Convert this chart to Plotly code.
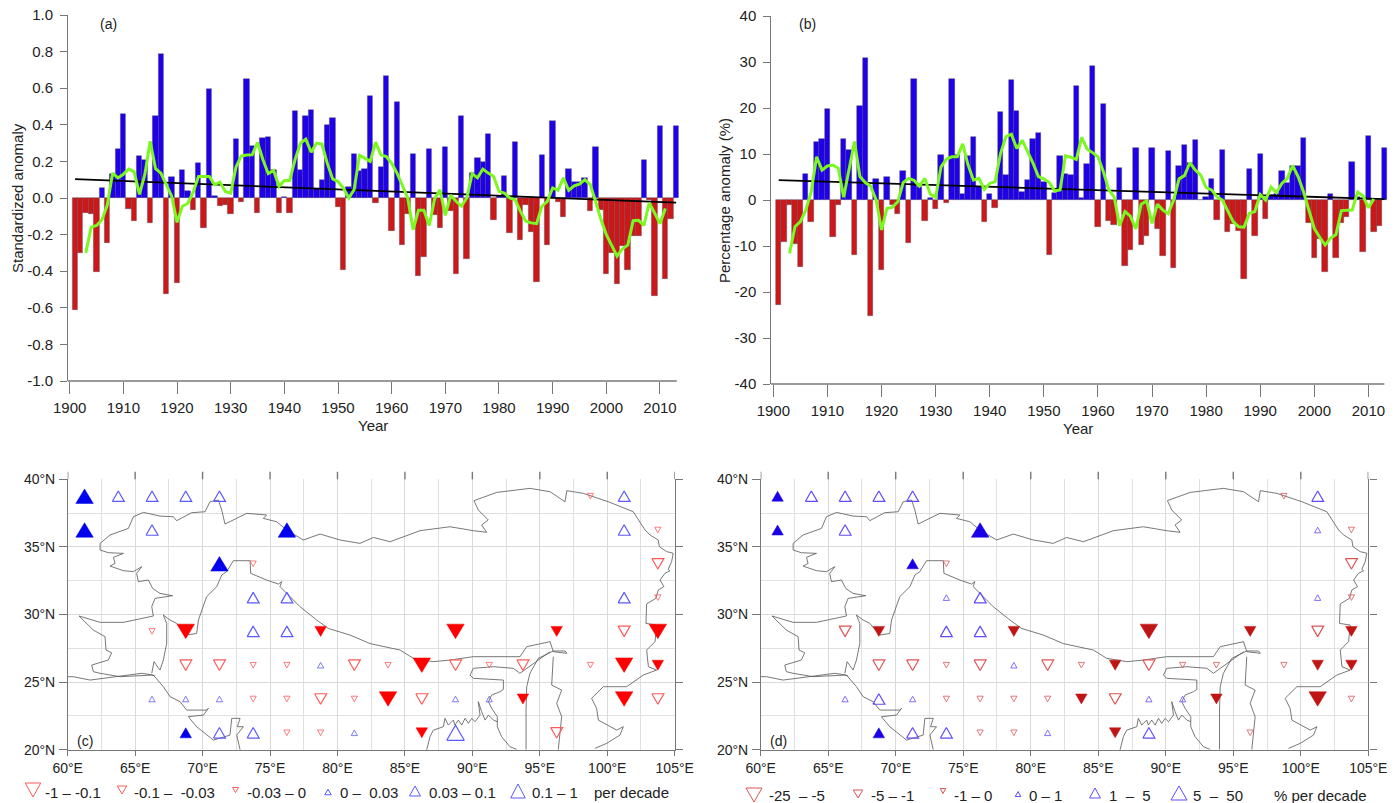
import plotly.graph_objects as go

W, H = 1399, 803
FONT = "Liberation Sans, Arial, sans-serif"
TXT = "#222222"
AX = "#777777"

years = list(range(1901, 2014))
a_values = [-0.61,-0.30,-0.08,-0.09,-0.405,0.055,-0.245,0.13,0.27,0.46,
            -0.06,-0.125,0.23,0.205,-0.135,0.45,0.785,-0.525,0.115,-0.465,
            0.155,0.04,-0.065,0.19,-0.165,0.595,0.01,-0.045,-0.04,-0.085,
            0.325,-0.02,0.65,0.285,-0.08,0.33,0.335,0.155,-0.08,0.005,
            -0.08,0.475,0.155,0.45,0.48,0.05,0.10,0.40,0.435,-0.05,
            -0.395,0.06,0.24,0.145,0.16,0.555,-0.025,0.17,0.665,-0.18,
            0.525,-0.258,-0.09,0.24,-0.425,-0.325,0.27,-0.095,-0.165,0.28,
            -0.07,-0.415,0.447,-0.333,0.135,0.218,0.195,0.352,-0.118,0.01,
            0.12,-0.19,0.305,-0.23,-0.036,-0.187,-0.458,0.233,-0.258,0.42,
            -0.024,-0.105,0.16,0.085,0.085,0.11,-0.07,0.28,-0.067,-0.418,
            -0.30,-0.47,-0.26,-0.395,-0.21,-0.205,0.207,-0.01,-0.536,0.396,
            -0.44,-0.113,0.396]
smooth_years = list(range(1903, 2012))
a_smooth = [-0.30,-0.16,-0.15,-0.12,-0.04,0.136,0.11,0.13,0.158,0.144,
            0.02,0.127,0.31,0.16,0.136,0.073,0.01,-0.133,-0.045,-0.03,
            0.03,0.118,0.118,0.118,0.073,0.087,0.036,0.027,0.17,0.23,
            0.235,0.236,0.304,0.21,0.133,0.15,0.064,0.095,0.095,0.21,
            0.30,0.322,0.25,0.30,0.295,0.19,0.104,0.09,0.055,0.0,
            0.045,0.233,0.218,0.20,0.305,0.236,0.227,0.19,0.136,0.064,
            0.0,-0.173,-0.067,-0.067,-0.15,-0.005,0.045,-0.095,0.015,-0.018,
            -0.045,0.0,0.133,0.11,0.158,0.136,0.118,0.036,0.027,0.0,
            -0.01,-0.073,-0.127,-0.136,-0.14,-0.045,-0.018,0.055,0.042,0.11,
            0.042,0.067,0.076,0.10,0.073,-0.018,-0.118,-0.2,-0.255,-0.318,
            -0.278,-0.258,-0.124,-0.122,-0.15,-0.027,-0.082,-0.14,-0.058]
trend_years = [1901, 2013]
a_trend = [0.103, -0.025]
a_ticks = [1.0,0.8,0.6,0.4,0.2,0.0,-0.2,-0.4,-0.6,-0.8,-1.0]
a_ticktext = ["1.0","0.8","0.6","0.4","0.2","0.0","-0.2","-0.4","-0.6","-0.8","-1.0"]

b_values = [-22.9,-9.05,-1.1,-9.6,-14.6,5.6,-4.7,12.7,13.2,19.8,
            -8.0,-1.1,13.2,10.8,-11.9,20.4,30.8,-25.3,4.6,-15.2,
            5.1,-1.1,-3.1,6.3,-9.3,26.4,2.9,-4.6,0.4,-2.0,
            9.7,-0.7,26.4,9.8,1.2,9.6,13.8,2.9,-4.7,1.4,
            -1.7,19.1,5.4,26.1,19.3,1.7,4.3,13.3,14.6,4.0,
            -11.9,1.5,9.6,5.6,5.5,24.8,0.4,7.9,29.2,-5.9,
            20.8,-4.5,-5.4,7.0,-14.3,-10.8,11.4,-9.8,-7.9,11.4,
            -6.4,-12.1,10.6,-14.8,7.5,11.9,8.0,13.1,0.1,0.6,
            4.6,-4.4,10.9,-7.0,-5.2,-6.7,-17.1,6.7,-7.8,10.0,
            -4.2,1.1,1.3,6.2,3.7,7.5,7.5,13.5,-5.1,-12.7,
            -8.5,-15.7,1.2,-12.5,-4.9,-3.8,8.3,0.7,-11.2,13.9,
            -6.9,-5.6,11.2]
b_smooth = [-11.6,-5.8,-4.7,-2.2,1.8,9.4,6.5,7.4,7.6,6.9,
            0.6,6.5,12.7,5.1,3.8,3.0,0.0,-6.5,-1.8,-1.6,
            -0.4,3.8,4.7,4.3,3.0,4.7,1.3,0.6,7.2,8.9,
            9.4,9.4,12.2,7.6,4.3,4.7,2.3,3.6,4.0,10.1,
            13.8,14.3,11.2,13.0,10.5,8.0,5.1,4.6,3.8,2.0,
            2.2,9.6,9.3,8.8,13.6,11.1,10.3,9.4,6.2,2.2,
            0.7,-5.6,-2.5,-3.5,-6.3,-0.9,-0.2,-5.1,-0.9,-2.2,
            -3.0,0.0,4.6,5.3,8.1,6.5,5.4,2.7,2.2,0.7,
            0.0,-2.5,-4.7,-5.8,-5.9,-2.9,-2.5,1.2,0.0,2.8,
            1.6,3.6,4.7,7.5,5.1,1.8,-2.2,-6.2,-8.1,-9.8,
            -8.3,-7.5,-2.3,-2.3,-2.2,1.7,0.9,-1.7,0.2]
b_trend = [4.3, 0.2]
b_ticks = [40,30,20,10,0,-10,-20,-30,-40]
b_ticktext = ["40","30","20","10","0","-10","-20","-30","-40"]

decades = list(range(1900, 2020, 10))

lon_ticks = list(range(60, 110, 5))
lon_ticktext = [f"{v}°E" for v in lon_ticks]
lat_ticks = [20, 25, 30, 35, 40]
lat_ticktext = [f"{v}°N" for v in lat_ticks]
lon_minor = [62.5 + 5 * i for i in range(9)]
lat_minor = [22.5, 27.5, 32.5, 37.5]

# Boundary polylines, lon and lat
north_lon = [60.84,62.40,64.13,66.35,66.23,66.47,67.78,66.84,66.30,65.98,65.24,65.11,65.49,64.87,64.13,63.39,63.14,63.51,63.39,64.13,63.01,62.40,62.40,63.14,64.50,64.87,65.61,66.84,67.83,68.08,69.19,70.18,70.55,71.17,71.42,71.66,73.27,74.75,74.50,75.49,76.23,77.47,78.71,80.19,81.67,82.66,83.90,86.12,88.34,90.07,91.06,90.69,91.18,90.44,90.12,91.80,94.27,95.76,96.87,97.00,98.23,100.08,101.93,102.80,103.17,103.78,103.86,104.40,104.89,104.77,104.52,104.65,104.28,103.91,104.20,103.78,103.61,102.92,102.87,102.87,103.66,103.54,102.92,103.05,103.66,102.67,101.44,99.71,98.84,99.21,99.34,100.70,101.19,100.94,99.96,99.09]
north_lat = [29.89,29.42,29.42,29.89,30.58,31.19,31.39,31.56,31.93,32.55,32.43,33.04,33.54,33.17,33.24,33.49,33.58,33.78,34.23,34.52,34.57,34.77,35.26,35.88,36.37,37.23,37.55,37.28,37.23,36.94,37.53,37.60,38.34,38.47,37.73,36.69,37.48,37.36,37.11,36.86,36.25,35.51,35.95,35.51,35.26,35.70,35.38,36.20,36.49,36.20,36.08,36.62,36.99,37.73,38.42,39.03,39.33,39.08,38.34,39.16,38.96,38.34,37.60,36.25,35.88,35.51,35.02,34.65,34.53,33.91,33.34,33.24,33.05,32.55,32.06,31.81,31.20,30.78,29.84,29.34,29.22,27.99,27.37,26.14,25.89,25.52,24.66,24.66,23.80,23.06,22.19,21.45,21.70,21.08,20.47,20.10]
west_lon = [60.84,61.90,62.77,62.84,63.26,63.01,61.78,61.90,62.40,63.88,66.23,66.47]
west_lat = [29.89,28.85,28.36,27.37,27.17,26.63,26.26,25.77,25.65,25.40,25.52,25.45]
coast_lon = [60.00,60.42,61.66,63.14,65.49,66.35,67.09,67.59,68.33,68.82,70.30,70.43,70.06,68.94,69.56,70.80,72.03,72.16,72.78,72.58,73.02,72.53,72.78]
coast_lat = [25.40,25.40,25.15,25.35,25.65,25.52,24.66,23.92,23.55,22.93,22.93,23.06,22.56,22.44,21.70,20.71,21.08,22.32,22.32,21.70,21.70,21.08,20.00]
thar_lon = [67.09,67.34,67.34,67.09,66.84,66.40,66.23]
thar_lat = [29.96,29.34,27.87,26.63,25.89,26.51,25.65]
foot_lon = [67.09,67.59,68.08,68.82,69.56,69.69,70.30,71.05,71.42,71.79,72.28,73.52,73.57,74.75,75.62,75.86,75.74,77.22,78.46,79.32,80.93,82.41,84.64,85.62,87.11,88.34,90.07,93.53,94.03,95.76,96.00,97.00,96.87,96.00,94.89,94.27,94.03,93.98,93.98]
foot_lat = [29.96,29.59,29.34,28.48,28.60,29.59,31.32,32.06,32.92,33.17,33.98,33.98,33.04,32.55,32.25,32.43,32.06,30.58,29.59,28.97,28.48,27.85,27.37,26.76,26.51,26.63,26.88,26.88,27.62,27.99,27.25,27.13,27.30,27.30,26.76,25.65,24.66,22.93,20.00]
east_lon = [96.00,95.88,96.62,96.25,96.62,96.50,96.37]
east_lat = [26.88,24.78,24.41,23.43,22.44,21.45,20.00]
assam_lon = [95.76,94.27,93.53,93.04,91.56,90.07,89.83,90.07,92.30,92.30,92.05,91.43,91.19,91.43,91.85,91.85,92.17,92.79,93.29]
assam_lat = [27.25,26.14,25.65,26.02,26.14,26.02,25.52,25.28,25.15,24.46,24.29,24.04,23.55,23.06,22.44,21.70,20.96,20.22,20.02]
bengal_lon = [86.61,86.86,87.11,87.85,87.97,88.22,88.59,88.71,88.96,89.21,89.46,89.70,89.95,90.20,90.57,90.44,90.69,90.94,91.19,91.56,91.85]
bengal_lat = [19.97,20.96,21.45,21.70,22.32,21.82,22.19,21.82,22.19,21.82,22.32,21.95,22.32,22.07,22.56,23.55,22.81,22.19,22.56,22.19,22.07]
boundaries = [(north_lon,north_lat),(west_lon,west_lat),(coast_lon,coast_lat),(thar_lon,thar_lat),
              (foot_lon,foot_lat),(east_lon,east_lat),(assam_lon,assam_lat),(bengal_lon,bengal_lat)]

# Trend classes on the grid, panel (c)
c_pos_sig_large = [(61.25,38.75),(61.25,36.25),(76.25,36.25),(71.25,33.75)]
c_pos_sig_small = [(68.75,21.25)]
c_pos_large = [(88.75,21.25)]
c_pos_mid = [(63.75,38.75),(66.25,38.75),(68.75,38.75),(71.25,38.75),(66.25,36.25),(73.75,31.25),(76.25,31.25),(73.75,28.75),(76.25,28.75),(71.25,21.25),(73.75,21.25),(101.25,38.75),(101.25,36.25),(101.25,31.25)]
c_pos_small = [(78.75,26.25),(66.25,23.75),(68.75,23.75),(71.25,23.75),(81.25,21.25),(88.75,23.75),(91.25,23.75)]
c_neg_sig_large = [(68.75,28.75),(88.75,28.75),(103.75,28.75),(86.25,26.25),(101.25,26.25),(83.75,23.75),(101.25,23.75)]
c_neg_sig_small = [(78.75,28.75),(96.25,28.75),(103.75,26.25),(93.75,23.75),(86.25,21.25)]
c_neg_mid = [(68.75,26.25),(71.25,26.25),(81.25,26.25),(88.75,26.25),(93.75,26.25),(78.75,23.75),(86.25,23.75),(103.75,33.75),(101.25,28.75),(96.25,21.25),(103.75,23.75)]
c_neg_small = [(66.25,28.75),(73.75,33.75),(73.75,26.25),(76.25,26.25),(83.75,26.25),(91.25,26.25),(98.75,26.25),(73.75,23.75),(76.25,23.75),(81.25,23.75),(76.25,21.25),(78.75,21.25),(98.75,38.75),(103.75,36.25),(103.75,31.25)]

# Panel (d)
d_pos_sig_large = [(76.25,36.25)]
d_pos_sig_small = [(61.25,38.75),(61.25,36.25),(71.25,33.75),(68.75,21.25)]
d_pos_mid = [(63.75,38.75),(66.25,38.75),(68.75,38.75),(71.25,38.75),(66.25,36.25),(76.25,31.25),(73.75,28.75),(76.25,28.75),(68.75,23.75),(71.25,21.25),(73.75,21.25),(88.75,21.25),(101.25,38.75)]
d_pos_small = [(73.75,31.25),(78.75,26.25),(66.25,23.75),(71.25,23.75),(81.25,21.25),(88.75,23.75),(91.25,23.75),(101.25,36.25),(101.25,31.25)]
d_neg_sig_large = [(88.75,28.75),(101.25,23.75)]
d_neg_sig_small = [(68.75,28.75),(78.75,28.75),(96.25,28.75),(103.75,28.75),(86.25,26.25),(101.25,26.25),(103.75,26.25),(83.75,23.75),(93.75,23.75),(86.25,21.25)]
d_neg_mid = [(66.25,28.75),(68.75,26.25),(71.25,26.25),(76.25,26.25),(81.25,26.25),(88.75,26.25),(86.25,23.75),(103.75,33.75),(101.25,28.75)]
d_neg_small = [(73.75,33.75),(73.75,26.25),(83.75,26.25),(91.25,26.25),(93.75,26.25),(98.75,26.25),(73.75,23.75),(76.25,23.75),(78.75,23.75),(81.25,23.75),(76.25,21.25),(78.75,21.25),(96.25,21.25),(98.75,38.75),(103.75,36.25),(103.75,31.25),(103.75,23.75)]

c_legend_labels = ["-1 – -0.1","-0.1 –\u00a0 -0.03","-0.03 – 0","0 –\u00a0 0.03","0.03 – 0.1","0.1 – 1","per decade"]
d_legend_labels = ["-25\u00a0 – -5","-5 – -1","-1 – 0","0 – 1","1\u00a0 –\u00a0 5","5\u00a0 –\u00a0 50","% per decade"]

KX, KY = 13.49, 13.52   # map px per degree, used to keep triangles equilateral on screen
BIG, SMALLF = (17.5, 14.5), (11.5, 10)
MID, SMALL, LARGE = (12, 10.5), (6.2, 5.6), (17.5, 15)

fig = go.Figure()

def dom(left, right, top, bottom):
    return [left / W, right / W], [1 - bottom / H, 1 - top / H]

def tri(points, size, up, kx=KX, ky=KY):
    w, h = size
    xs, ys = [], []
    s = 1 if up else -1
    for x, y in points:
        dx, dy = w / 2 / kx, h / 2 / ky
        xs += [x - dx, x + dx, x, x - dx, None]
        ys += [y - s * dy, y - s * dy, y + s * dy, y - s * dy, None]
    return xs, ys

def add_tri(points, size, up, color, filled, xa, ya, lw=1.2, kx=KX, ky=KY):
    xs, ys = tri(points, size, up, kx, ky)
    kw = dict(fill="toself", fillcolor=color) if filled else {}
    fig.add_trace(go.Scatter(x=xs, y=ys, mode="lines", xaxis=xa, yaxis=ya,
                             line=dict(color=color, width=lw if not filled else 0.5),
                             hoverinfo="skip", showlegend=False, cliponaxis=False, **kw))

def bar_panel(values, smooth, trend, xa, ya):
    colors = ["#2000E8" if v >= 0 else "#CC1818" for v in values]
    fig.add_trace(go.Bar(x=years, y=values, width=1, xaxis=xa, yaxis=ya, showlegend=False,
                         marker=dict(color=colors, line=dict(color="rgba(70,70,90,0.65)", width=0.6)),
                         cliponaxis=False))
    fig.add_trace(go.Scatter(x=trend_years, y=trend, mode="lines", xaxis=xa, yaxis=ya, showlegend=False,
                             line=dict(color="black", width=1.8)))
    fig.add_trace(go.Scatter(x=smooth_years, y=smooth, mode="lines", xaxis=xa, yaxis=ya, showlegend=False,
                             line=dict(color="#7CF820", width=3)))

bar_panel(a_values, a_smooth, a_trend, "x", "y")
bar_panel(b_values, b_smooth, b_trend, "x2", "y2")

for xa, ya in (("x3", "y3"), ("x4", "y4")):
    for blon, blat in boundaries:
        fig.add_trace(go.Scatter(x=blon, y=blat, mode="lines", xaxis=xa, yaxis=ya, showlegend=False,
                                 line=dict(color="#555555", width=0.8), hoverinfo="skip"))

BLUE_C, RED_C, OBLUE_C, ORED_C = "#0000EE", "#FF0000", "#5A5AFF", "#FF5A5A"
BLUE_D, RED_D, OBLUE_D, ORED_D = "#1A00E6", "#C01515", "#5F4CFF", "#DD5555"

add_tri(c_pos_sig_large, BIG, True, BLUE_C, True, "x3", "y3")
add_tri(c_pos_sig_small, SMALLF, True, BLUE_C, True, "x3", "y3")
add_tri(c_pos_large, LARGE, True, OBLUE_C, False, "x3", "y3")
add_tri(c_pos_mid, MID, True, OBLUE_C, False, "x3", "y3")
add_tri(c_pos_small, SMALL, True, OBLUE_C, False, "x3", "y3", 0.8)
add_tri(c_neg_sig_large, BIG, False, RED_C, True, "x3", "y3")
add_tri(c_neg_sig_small, SMALLF, False, RED_C, True, "x3", "y3")
add_tri(c_neg_mid, MID, False, ORED_C, False, "x3", "y3")
add_tri(c_neg_small, SMALL, False, ORED_C, False, "x3", "y3", 0.8)

add_tri(d_pos_sig_large, BIG, True, BLUE_D, True, "x4", "y4")
add_tri(d_pos_sig_small, SMALLF, True, BLUE_D, True, "x4", "y4")
add_tri(d_pos_mid, MID, True, OBLUE_D, False, "x4", "y4")
add_tri(d_pos_small, SMALL, True, OBLUE_D, False, "x4", "y4", 0.8)
add_tri(d_neg_sig_large, BIG, False, RED_D, True, "x4", "y4")
add_tri(d_neg_sig_small, SMALLF, False, RED_D, True, "x4", "y4")
add_tri(d_neg_mid, MID, False, ORED_D, False, "x4", "y4")
add_tri(d_neg_small, SMALL, False, ORED_D, False, "x4", "y4", 0.8)

# Legend glyphs sit on a hidden axis pair measured in page pixels
leg_c = [((33,790),(15.5,14),False,ORED_C),((122,790),(9.5,8),False,ORED_C),((235.5,790),(6,5),False,ORED_C),
         ((328,792),(6.5,5.5),True,OBLUE_C),((415,791),(11,10),True,OBLUE_C),((518,791),(14.5,14),True,OBLUE_C)]
leg_d = [((754,795),(16,14),False,ORED_D),((858,794),(9.5,8),False,ORED_D),((943,791),(5.5,5),False,ORED_D),
         ((1018,794),(5.5,5),True,OBLUE_D),((1095,793),(11,10),True,OBLUE_D),((1179,793),(16,14),True,OBLUE_D)]
for pt, sz, up, col in leg_c + leg_d:
    add_tri([pt], sz, up, col, False, "x5", "y5", 1.0, 1, -1)

ann = []
def text(s, x, y, size=15, anchor="left", angle=0):
    ann.append(dict(text=s, x=x / W, y=1 - y / H, xref="paper", yref="paper", showarrow=False,
                    xanchor=anchor, yanchor="middle", textangle=angle,
                    font=dict(family=FONT, size=size, color=TXT)))

text("(a)", 98, 24, 14)
text("(b)", 797, 24, 14)
text("(c)", 75, 741, 14)
text("(d)", 768, 741, 14)
text("Standardized anomaly", 17, 198, 15, "center", -90)
text("Percentage anomaly (%)", 724, 200, 15, "center", -90)
text("Year", 373, 425, 15, "center")
text("Year", 1078, 428, 15, "center")
for s, x in zip(c_legend_labels, [43,132,245,338,427,530,592]):
    text(s, x, 792, 15)
for s, x in zip(d_legend_labels, [767,869,952,1027,1107,1191,1272]):
    text(s, x, 795, 15)

A_X0, A_X1, B_X0, B_X1 = 1899.63, 2013.6, 1899.57, 2013.6
A_AXIS_END, B_AXIS_END = 2013.12, 2012.94

shapes = []
def top_ticks(xa, ya):
    for v in lon_ticks:
        shapes.append(dict(type="line", xref=xa, yref=ya + " domain", x0=v, x1=v, y0=1, y1=1 + 7.5 / 270.4,
                           line=dict(color=AX, width=1.4)))
top_ticks("x3", "y3")
top_ticks("x4", "y4")
# The lower axis line stops at 2013 while the last bar runs a little past it
shapes.append(dict(type="line", xref="x", yref="y domain", x0=A_X0, x1=A_AXIS_END, y0=0, y1=0, line=dict(color=AX, width=1.4)))
shapes.append(dict(type="line", xref="x2", yref="y2 domain", x0=B_X0, x1=B_AXIS_END, y0=0, y1=0, line=dict(color=AX, width=1.4)))

tf = dict(family=FONT, size=15, color=TXT)
mf = dict(family=FONT, size=14, color=TXT)

def bar_x(domain, rng):
    return dict(domain=domain, range=rng, tickvals=decades, ticks="outside", ticklen=12, tickcolor=AX, tickwidth=1.4,
                showline=False, showgrid=False, zeroline=False, tickfont=tf, ticklabelstandoff=1)

def bar_y(domain, rng, tv, tt):
    return dict(domain=domain, range=rng, tickvals=tv, ticktext=tt, ticks="outside", ticklen=6.5, tickcolor=AX, tickwidth=1.4,
                showline=True, linecolor=AX, linewidth=1.4, showgrid=False, zeroline=False, tickfont=tf,
                ticklabelstandoff=4)

def map_x(domain):
    return dict(domain=domain, range=[60, 105], tickvals=lon_ticks, ticktext=lon_ticktext, ticks="outside", ticklen=5,
                tickcolor=AX, tickwidth=1.4, showline=True, linecolor=AX, linewidth=1.4, showgrid=True,
                gridcolor="#DADADA", gridwidth=1.4, zeroline=False, tickfont=mf, ticklabelstandoff=0,
                minor=dict(tickvals=lon_minor, showgrid=True, gridcolor="#E0E0E0", gridwidth=1, ticks=""))

def map_y(domain):
    return dict(domain=domain, range=[20, 40], tickvals=lat_ticks, ticktext=lat_ticktext, ticks="outside", ticklen=7.5,
                tickcolor=AX, tickwidth=1.4, showline=True, linecolor=AX, linewidth=1.4, mirror="ticks", showgrid=True,
                gridcolor="#DADADA", gridwidth=1.4, zeroline=False, tickfont=mf, ticklabelstandoff=1,
                minor=dict(tickvals=lat_minor, showgrid=True, gridcolor="#E0E0E0", gridwidth=1, ticks=""))

ax, ay = dom(67.7, 679.3, 15, 381)
bx, by = dom(771, 1387.9, 16, 384)
cx, cy = dom(67.7, 674.7, 479.3, 749.7)
ex, ey = dom(760.7, 1368.3, 479.3, 749.7)

fig.update_layout(
    width=W, height=H, autosize=False, margin=dict(l=0, r=0, t=0, b=0, pad=0, autoexpand=False),
    paper_bgcolor="white", plot_bgcolor="rgba(0,0,0,0)", bargap=0, barmode="overlay", font=dict(family=FONT),
    annotations=ann, shapes=shapes, showlegend=False,
    xaxis=bar_x(ax, [A_X0, A_X1]), yaxis=bar_y(ay, [-1, 1], a_ticks, a_ticktext),
    xaxis2=dict(bar_x(bx, [B_X0, B_X1]), anchor="y2"), yaxis2=dict(bar_y(by, [-40, 40], b_ticks, b_ticktext), anchor="x2"),
    xaxis3=dict(map_x(cx), anchor="y3"), yaxis3=dict(map_y(cy), anchor="x3"),
    xaxis4=dict(map_x(ex), anchor="y4"), yaxis4=dict(map_y(ey), anchor="x4"),
    xaxis5=dict(domain=[0, 1], range=[0, W], visible=False, anchor="y5", fixedrange=True),
    yaxis5=dict(domain=[0, 1], range=[H, 0], visible=False, anchor="x5", fixedrange=True),
)

fig.write_html("out.html", config={"displayModeBar": False},
               post_script="document.body.style.margin='0';document.body.style.overflow='hidden';")
